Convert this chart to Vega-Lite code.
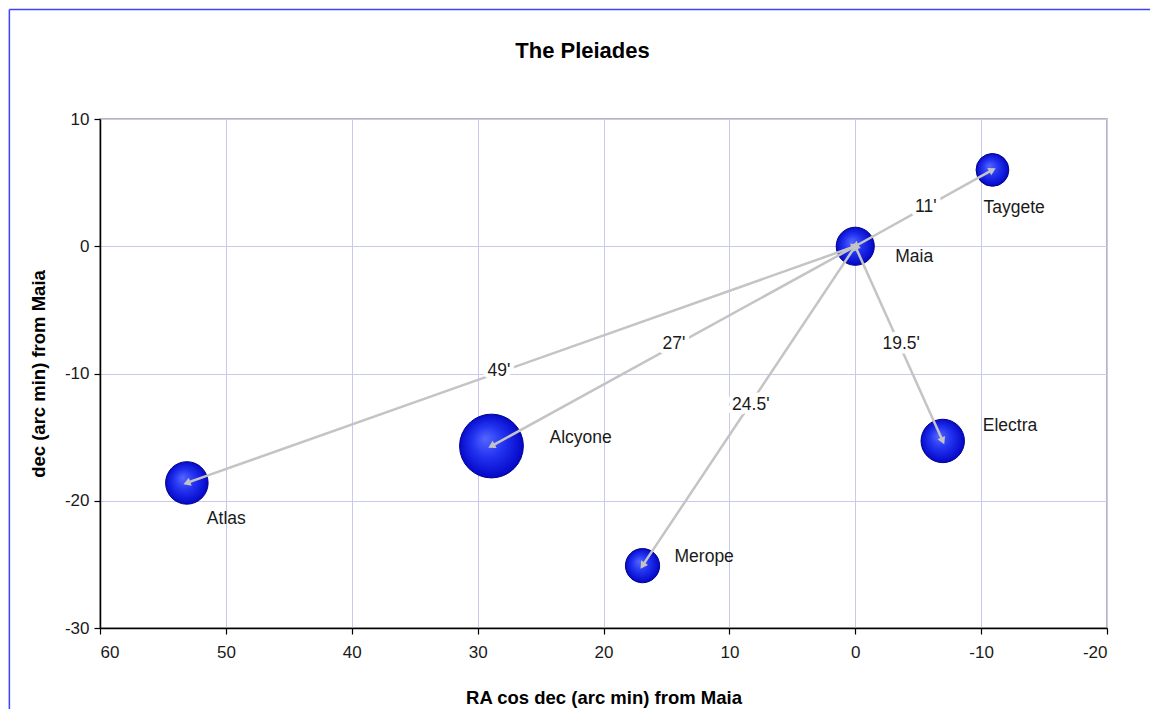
{
  "$schema": "https://vega.github.io/schema/vega-lite/v6.json",
  "width": 1007,
  "height": 509,
  "autosize": {"type": "none"},
  "padding": {"left": 100, "top": 119, "right": 43, "bottom": 81},
  "background": "white",
  "config": {
    "font": "Liberation Sans",
    "view": {"stroke": "#a0a0a0", "strokeWidth": 1.5},
    "axis": {
      "labelFont": "Liberation Sans",
      "labelFontSize": 17,
      "labelColor": "#1a1a1a",
      "titleFont": "Liberation Sans",
      "titleFontSize": 18.5,
      "titleFontWeight": "bold",
      "titleColor": "#000000",
      "domainColor": "#000000",
      "domainWidth": 1.5,
      "tickColor": "#000000",
      "tickSize": 6,
      "tickWidth": 1.2,
      "gridColor": "#c8c8f0",
      "gridWidth": 1,
      "gridOpacity": 1,
      "labelExpr": "datum.value + ''"
    }
  },
  "title": {
    "text": "The Pleiades",
    "font": "Liberation Sans",
    "fontSize": 22,
    "fontWeight": "bold",
    "color": "#000000",
    "anchor": "middle",
    "baseline": "alphabetic",
    "offset": 0,
    "dy": 71,
    "dx": -21
  },
  "datasets": {
    "stars": [
      {"name": "Maia", "ra": 0, "dec": 0, "bubble": 0.357},
      {"name": "Taygete", "ra": -10.9, "dec": 6.0, "bubble": 0.264},
      {"name": "Electra", "ra": -6.95, "dec": -15.3, "bubble": 0.463},
      {"name": "Merope", "ra": 16.9, "dec": -25.1, "bubble": 0.287},
      {"name": "Alcyone", "ra": 28.9, "dec": -15.7, "bubble": 1.0},
      {"name": "Atlas", "ra": 53.1, "dec": -18.6, "bubble": 0.444}
    ],
    "distances": [
      {"label": "11'", "ra": -5.6, "dec": 3.1},
      {"label": "27'", "ra": 14.4, "dec": -7.7},
      {"label": "49'", "ra": 28.3, "dec": -9.8},
      {"label": "24.5'", "ra": 8.3, "dec": -12.5},
      {"label": "19.5'", "ra": -3.65, "dec": -7.7}
    ],
    "frame": [
      {"edge": "left", "ra": 67.2, "dec": 18.6, "ra2": 67.2, "dec2": -37},
      {"edge": "top", "ra": 67.2, "dec": 18.6, "ra2": -24, "dec2": 18.6}
    ]
  },
  "encoding": {
    "x": {
      "field": "ra",
      "type": "quantitative",
      "scale": {"domain": [-20, 60], "reverse": true, "nice": false, "zero": false},
      "axis": {
        "values": [60, 50, 40, 30, 20, 10, 0, -10, -20],
        "title": "RA cos dec (arc min) from Maia",
        "labelPadding": 10,
        "titlePadding": 28
      }
    },
    "y": {
      "field": "dec",
      "type": "quantitative",
      "scale": {"domain": [-30, 10], "nice": false, "zero": false},
      "axis": {
        "values": [10, 0, -10, -20, -30],
        "title": "dec (arc min) from Maia",
        "labelPadding": 5,
        "titlePadding": 16
      }
    }
  },
  "layer": [
    {
      "data": {"name": "frame"},
      "mark": {"type": "rule", "color": "#4040ff", "strokeWidth": 1.5, "clip": false},
      "encoding": {
        "x2": {"field": "ra2"},
        "y2": {"field": "dec2"}
      }
    },
    {
      "data": {"name": "stars"},
      "mark": {
        "type": "point",
        "shape": "circle",
        "filled": true,
        "opacity": 1,
        "fill": {
          "gradient": "radial",
          "x1": 0.4, "y1": 0.38, "r1": 0,
          "x2": 0.5, "y2": 0.5, "r2": 0.55,
          "stops": [
            {"offset": 0, "color": "#5566ff"},
            {"offset": 0.45, "color": "#2233f0"},
            {"offset": 1, "color": "#0000c0"}
          ]
        },
        "stroke": "#00008a",
        "strokeWidth": 1
      },
      "encoding": {
        "size": {
          "field": "bubble",
          "type": "quantitative",
          "scale": {"domain": [0, 1], "range": [0, 4070]},
          "legend": null
        }
      }
    },
    {
      "data": {"name": "stars"},
      "transform": [{"filter": "datum.name !== 'Maia'"}],
      "mark": {"type": "rule", "color": "#c4c4c4", "strokeWidth": 2.5},
      "encoding": {
        "x2": {"datum": 0},
        "y2": {"datum": 0}
      }
    },
    {
      "data": {"name": "stars"},
      "transform": [
        {"filter": "datum.name !== 'Maia'"},
        {"calculate": "atan2(-datum.ra, datum.dec) * 180 / PI", "as": "ang"}
      ],
      "mark": {"type": "point", "shape": "triangle-up", "filled": true, "color": "#c4c4c4", "opacity": 1, "size": 70},
      "encoding": {
        "angle": {"field": "ang", "type": "quantitative", "scale": null}
      }
    },
    {
      "data": {"name": "stars"},
      "transform": [
        {"filter": "datum.name !== 'Maia'"},
        {"calculate": "atan2(-datum.ra, datum.dec) * 180 / PI + 180", "as": "ang2"}
      ],
      "mark": {"type": "point", "shape": "triangle-up", "filled": true, "color": "#c4c4c4", "opacity": 1, "size": 70},
      "encoding": {
        "x": {"datum": 0},
        "y": {"datum": 0},
        "angle": {"field": "ang2", "type": "quantitative", "scale": null}
      }
    },
    {
      "data": {"name": "distances"},
      "mark": {"type": "text", "fontSize": 17.5, "align": "center", "baseline": "middle", "fill": "white", "stroke": "white", "strokeWidth": 9, "strokeJoin": "round"},
      "encoding": {"text": {"field": "label"}}
    },
    {
      "data": {"name": "distances"},
      "mark": {"type": "text", "fontSize": 17.5, "align": "center", "baseline": "middle", "color": "#1a1a1a"},
      "encoding": {"text": {"field": "label"}}
    },
    {
      "data": {"name": "stars"},
      "transform": [{"filter": "datum.name === 'Alcyone'"}],
      "mark": {"type": "text", "fontSize": 17.5, "align": "left", "baseline": "middle", "color": "#1a1a1a", "dx": 58, "dy": -8},
      "encoding": {"text": {"field": "name"}}
    },
    {
      "data": {"name": "stars"},
      "transform": [{"filter": "datum.name === 'Merope'"}],
      "mark": {"type": "text", "fontSize": 17.5, "align": "left", "baseline": "middle", "color": "#1a1a1a", "dx": 32, "dy": -8.5},
      "encoding": {"text": {"field": "name"}}
    },
    {
      "data": {"name": "stars"},
      "transform": [{"filter": "datum.name === 'Electra'"}],
      "mark": {"type": "text", "fontSize": 17.5, "align": "left", "baseline": "middle", "color": "#1a1a1a", "dx": 40, "dy": -15},
      "encoding": {"text": {"field": "name"}}
    },
    {
      "data": {"name": "stars"},
      "transform": [{"filter": "datum.name === 'Taygete'"}],
      "mark": {"type": "text", "fontSize": 17.5, "align": "left", "baseline": "middle", "color": "#1a1a1a", "dx": -9, "dy": 38},
      "encoding": {"text": {"field": "name"}}
    },
    {
      "data": {"name": "stars"},
      "transform": [{"filter": "datum.name === 'Maia'"}],
      "mark": {"type": "text", "fontSize": 17.5, "align": "left", "baseline": "middle", "color": "#1a1a1a", "dx": 40, "dy": 10.5},
      "encoding": {"text": {"field": "name"}}
    },
    {
      "data": {"name": "stars"},
      "transform": [{"filter": "datum.name === 'Atlas'"}],
      "mark": {"type": "text", "fontSize": 17.5, "align": "left", "baseline": "middle", "color": "#1a1a1a", "dx": 20, "dy": 36},
      "encoding": {"text": {"field": "name"}}
    },
    {
      "data": {"values": [{"note": ["Coordinate epoch 1950", "Magnitude data from SIMBAD", "Position data from WEBDA"]}]},
      "mark": {"type": "text", "fontSize": 14, "align": "left", "baseline": "alphabetic", "color": "#1a1a1a", "dx": 15, "dy": 28.5, "lineHeight": 20.3},
      "encoding": {
        "x": {"datum": 60},
        "y": {"datum": 10},
        "text": {"field": "note"}
      }
    }
  ]
}
